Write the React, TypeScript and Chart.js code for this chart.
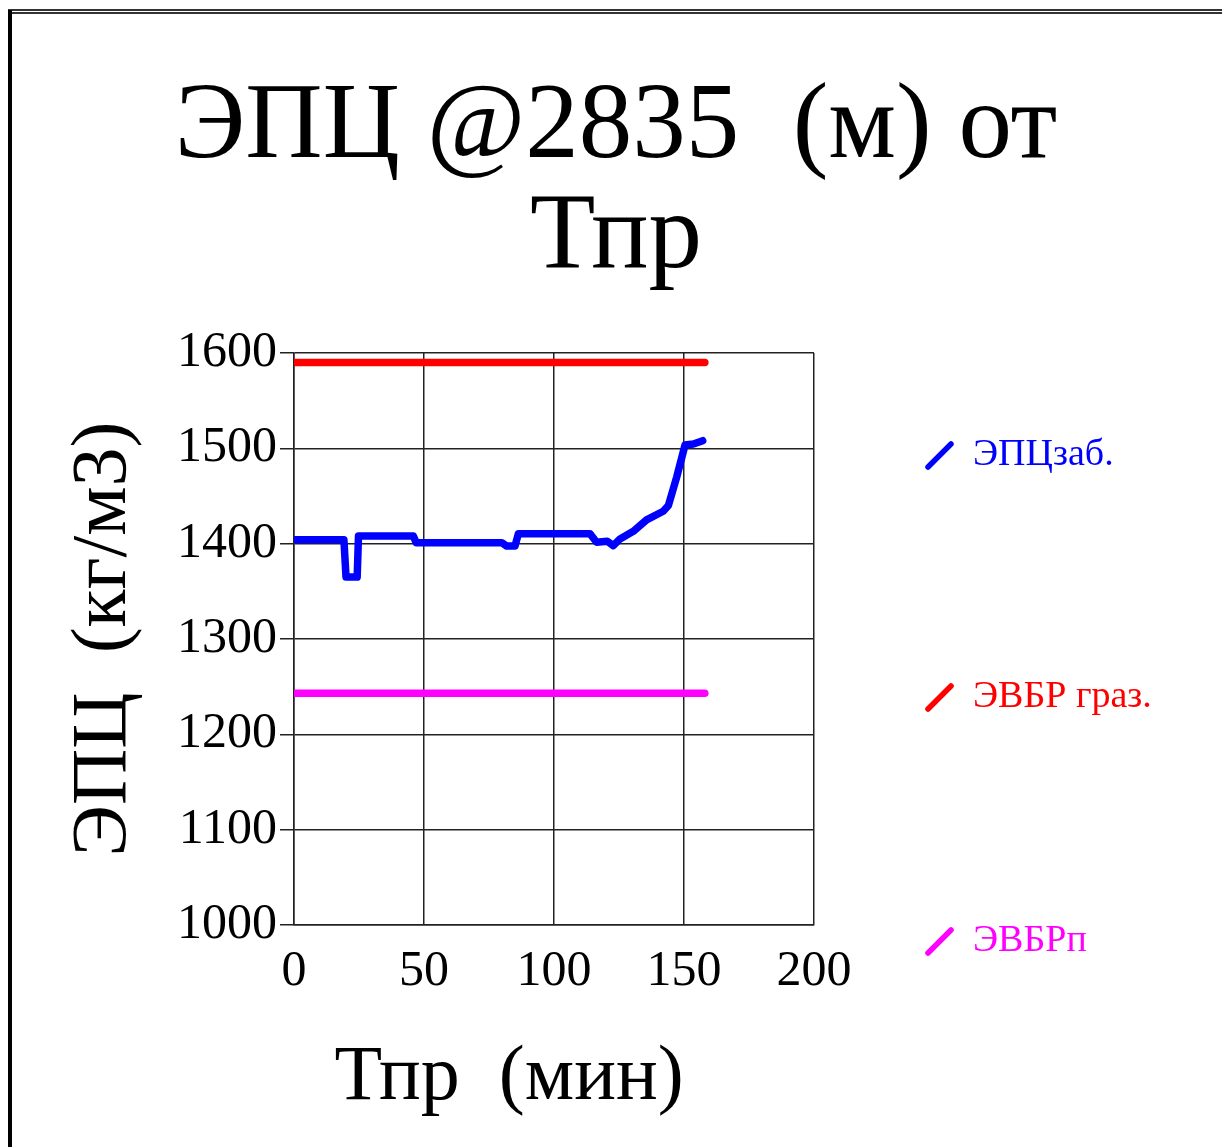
import React, { useEffect, useRef } from "react";
import { Chart, registerables } from "chart.js";

Chart.register(...registerables);

// ---- Text ----
const titleLines = ["ЭПЦ @2835  (м) от", "Тпр"];
const xAxisTitle = "Тпр  (мин)";
const yAxisTitle = "ЭПЦ  (кг/м3)";
const seriesNames = ["ЭПЦзаб.", "ЭВБР граз.", "ЭВБРп"];
const seriesColors = ["#0000ff", "#ff0000", "#ff00ff"];

// ---- Data ----
const epcTimes = [
  0, 19.2, 20, 24.3, 24.8, 45.9, 47.0, 79.9, 81.8, 85.0, 86.3, 113.8, 116.4,
  120.5, 122.8, 125.4, 130.5, 135.6, 142.0, 144.0, 147.2, 150.4, 153.6, 157.2,
];
const epcValues = [
  1404, 1404, 1365, 1365, 1408, 1408, 1401, 1401, 1397.5, 1397.5, 1410.5,
  1410.5, 1401.5, 1402.5, 1398, 1405, 1413, 1425, 1434, 1440, 1470, 1503.5,
  1504.5, 1508,
];
const limitTimes = [0, 158];
const evbrGrazValues = [1590, 1590];
const evbrPValues = [1243, 1243];

// ---- Axis ticks ----
const xTicks = [0, 50, 100, 150, 200];
const yTicks = [1000, 1100, 1200, 1300, 1400, 1500, 1600];

const FONT = '"Liberation Serif", "Times New Roman", serif';

const toPoints = (xs: number[], ys: number[]) =>
  xs.map((x, i) => ({ x, y: ys[i] }));

const sideLegend = {
  id: "sideLegend",
  afterDraw(chart: any) {
    const { ctx, chartArea } = chart;
    const offsets = [102, 344, 588];
    ctx.save();
    chart.data.datasets.forEach((ds: any, i: number) => {
      const cy = chartArea.top + offsets[i];
      const x0 = chartArea.right + 114;
      ctx.strokeStyle = ds.borderColor;
      ctx.lineWidth = 5.5;
      ctx.lineCap = "round";
      ctx.beginPath();
      ctx.moveTo(x0, cy + 12);
      ctx.lineTo(x0 + 23, cy - 11);
      ctx.stroke();
      ctx.fillStyle = ds.borderColor;
      ctx.font = `38px ${FONT}`;
      ctx.textBaseline = "middle";
      ctx.textAlign = "left";
      ctx.fillText(ds.label, chartArea.right + 159, cy);
    });
    // x-axis title (offset left of the plot centre, as in the original)
    ctx.fillStyle = "#000";
    ctx.font = `78px ${FONT}`;
    ctx.textAlign = "center";
    ctx.textBaseline = "alphabetic";
    ctx.fillText(xAxisTitle, chartArea.left + 215, chartArea.bottom + 174);
    ctx.restore();
  },
};

export default function App() {
  const ref = useRef<HTMLCanvasElement | null>(null);

  useEffect(() => {
    if (!ref.current) return;
    Chart.defaults.font.family = FONT;
    Chart.defaults.color = "#000";
    const gridColor = "#222";
    const chart = new Chart(ref.current, {
      type: "line",
      data: {
        datasets: [
          {
            label: seriesNames[0],
            data: toPoints(epcTimes, epcValues),
            borderColor: seriesColors[0],
            backgroundColor: seriesColors[0],
          },
          {
            label: seriesNames[1],
            data: toPoints(limitTimes, evbrGrazValues),
            borderColor: seriesColors[1],
            backgroundColor: seriesColors[1],
          },
          {
            label: seriesNames[2],
            data: toPoints(limitTimes, evbrPValues),
            borderColor: seriesColors[2],
            backgroundColor: seriesColors[2],
          },
        ],
      },
      options: {
        animation: false,
        responsive: false,
        maintainAspectRatio: false,
        layout: { padding: { left: 10, right: 0, top: 0, bottom: 0 } },
        elements: {
          point: { radius: 0 },
          line: {
            borderWidth: 7.5,
            tension: 0,
            borderCapStyle: "round",
            borderJoinStyle: "round",
          },
        },
        plugins: {
          legend: { display: false },
          tooltip: { enabled: false },
          title: {
            display: true,
            text: titleLines,
            color: "#000",
            font: { size: 107, weight: "normal", lineHeight: 1.03 },
            padding: { top: 74, bottom: 58.6 },
          },
        },
        scales: {
          x: {
            type: "linear",
            min: xTicks[0],
            max: xTicks[xTicks.length - 1],
            ticks: {
              stepSize: xTicks[1] - xTicks[0],
              padding: 17,
              color: "#000",
              font: { size: 50 },
              maxRotation: 0,
              autoSkip: false,
              callback: (v: any) => String(v),
            },
            grid: { color: gridColor, lineWidth: 1.5, drawTicks: false },
            border: { color: gridColor, width: 1.5 },
            title: { display: false, text: xAxisTitle },
            afterFit(scale: any) {
              scale.height = 222;
            },
          },
          y: {
            type: "linear",
            min: yTicks[0],
            max: yTicks[yTicks.length - 1],
            ticks: {
              stepSize: yTicks[1] - yTicks[0],
              padding: 3,
              color: "#000",
              font: { size: 50 },
              autoSkip: false,
              callback: (v: any) => String(v),
            },
            grid: {
              color: gridColor,
              lineWidth: 1.5,
              drawTicks: true,
              tickLength: 14,
            },
            border: { color: gridColor, width: 1.5 },
            title: {
              display: true,
              text: yAxisTitle,
              color: "#000",
              font: { size: 78 },
              padding: { top: 48, bottom: 0 },
            },
            afterFit(scale: any) {
              scale.width = 284;
            },
          },
          spacer: {
            type: "linear",
            position: "right",
            display: true,
            ticks: { display: false },
            grid: { display: false, drawTicks: false },
            border: { display: false },
            afterFit(scale: any) {
              scale.width = 408;
            },
          },
        },
      },
      plugins: [sideLegend],
    });
    return () => chart.destroy();
  }, []);

  return (
    <div
      style={{
        position: "absolute",
        left: 0,
        top: 0,
        width: 1222,
        height: 1147,
        background: "#fff",
        overflow: "hidden",
      }}
    >
      <canvas
        ref={ref}
        width={1222}
        height={1147}
        style={{ display: "block", position: "absolute", left: 0, top: 0 }}
      />
      <div
        style={{
          position: "absolute",
          left: 8,
          top: 9,
          width: 1214,
          height: 0,
          borderTop: "5px double #333",
        }}
      />
      <div
        style={{
          position: "absolute",
          left: 8,
          top: 10,
          width: 4,
          height: 1137,
          background: "#000",
        }}
      />
    </div>
  );
}
